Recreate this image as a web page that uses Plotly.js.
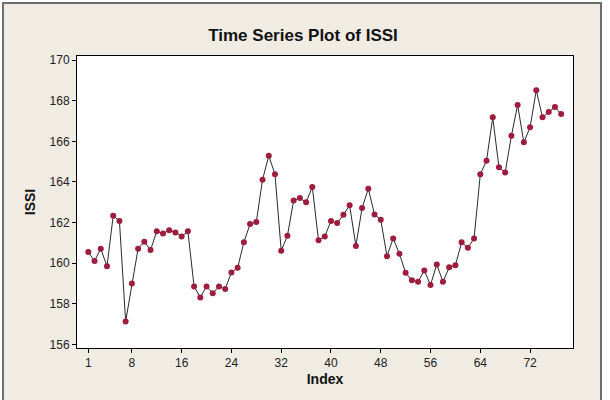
<!DOCTYPE html>
<html>
<head>
<meta charset="utf-8">
<script src="https://cdn.plot.ly/plotly-3.0.1.min.js"></script>
<style>
html,body{margin:0;padding:0;background:#ffffff;}
#chart{width:610px;height:400px;}
</style>
</head>
<body>
<div id="chart"></div>
<script>
// Data
var issi = [
  160.55, 160.11, 160.72, 159.85, 162.34, 162.08, 157.14, 159.01, 160.72, 161.06,
  160.65, 161.57, 161.47, 161.62, 161.52, 161.32, 161.57, 158.86, 158.32, 158.86,
  158.52, 158.86, 158.73, 159.55, 159.78, 161.03, 161.93, 162.03, 164.11, 165.29,
  164.38, 160.62, 161.35, 163.09, 163.21, 163.00, 163.75, 161.13, 161.32, 162.08,
  161.98, 162.39, 162.85, 160.85, 162.72, 163.67, 162.40, 162.14, 160.35, 161.22,
  160.47, 159.53, 159.16, 159.09, 159.65, 158.93, 159.94, 159.09, 159.80, 159.90,
  161.03, 160.76, 161.22, 164.38, 165.05, 167.18, 164.72, 164.47, 166.27, 167.79,
  165.95, 166.69, 168.51, 167.18, 167.44, 167.69, 167.34
];
var index = issi.map(function(_, i){ return i + 1; });
var xTicks = [1, 8, 16, 24, 32, 40, 48, 56, 64, 72];
var yTicks = [156, 158, 160, 162, 164, 166, 168, 170];

var trace = {
  x: index,
  y: issi,
  type: 'scatter',
  mode: 'lines+markers',
  line: {color: '#2a2a2a', width: 1},
  marker: {color: '#9e1c3e', size: 6},
  hoverinfo: 'x+y'
};

var L = 77, R = 573, T = 56, B = 348, W = 610, H = 400;
var pw = R - L, ph = B - T;
function px(x){ return (x - L) / pw; }
function py(y){ return (B - y) / ph; }

var layout = {
  width: W, height: H,
  margin: {l: L, r: W - R, t: T, b: H - B, pad: 0},
  paper_bgcolor: '#ffffff',
  plot_bgcolor: '#ffffff',
  showlegend: false,
  font: {family: 'Liberation Sans, Arial, sans-serif', size: 12, color: '#222222'},
  title: {
    text: '<b>Time Series Plot of ISSI</b>',
    font: {family: 'Liberation Sans, Arial, sans-serif', size: 17, color: '#111111'},
    x: 303 / W, xanchor: 'center', xref: 'container',
    y: 1 - 35 / H, yanchor: 'middle', yref: 'container'
  },
  xaxis: {
    range: [-0.82, 78.9],
    tickmode: 'array', tickvals: xTicks, ticktext: xTicks.map(String),
    ticks: 'outside', ticklen: 4, tickwidth: 1, tickcolor: '#000000',
    showgrid: false, zeroline: false,
    showline: true, linecolor: '#000000', linewidth: 1, mirror: true,
    tickfont: {family: 'Liberation Sans, Arial, sans-serif', size: 12, color: '#222222'},
    title: {text: '<b>Index</b>', font: {family: 'Liberation Sans, Arial, sans-serif', size: 14, color: '#111111'}, standoff: 4}
  },
  yaxis: {
    range: [155.83, 170.2],
    tickmode: 'array', tickvals: yTicks, ticktext: yTicks.map(String),
    ticks: 'outside', ticklen: 4, tickwidth: 1, tickcolor: '#000000',
    showgrid: false, zeroline: false,
    showline: true, linecolor: '#000000', linewidth: 1, mirror: true,
    tickfont: {family: 'Liberation Sans, Arial, sans-serif', size: 12, color: '#222222'},
    title: {text: '<b>ISSI</b>', font: {family: 'Liberation Sans, Arial, sans-serif', size: 14, color: '#111111'}, standoff: 10}
  },
  shapes: [
    {type: 'rect', xref: 'paper', yref: 'paper', layer: 'below',
     x0: px(3), x1: px(601), y0: py(406), y1: py(3),
     fillcolor: '#f0ece4', line: {color: '#6e6e6e', width: 2}},
    {type: 'rect', xref: 'paper', yref: 'paper', layer: 'below',
     x0: 0, x1: 1, y0: 0, y1: 1,
     fillcolor: '#ffffff', line: {width: 0}}
  ]
};

Plotly.newPlot('chart', [trace], layout, {displayModeBar: false, staticPlot: true});
</script>
</body>
</html>
